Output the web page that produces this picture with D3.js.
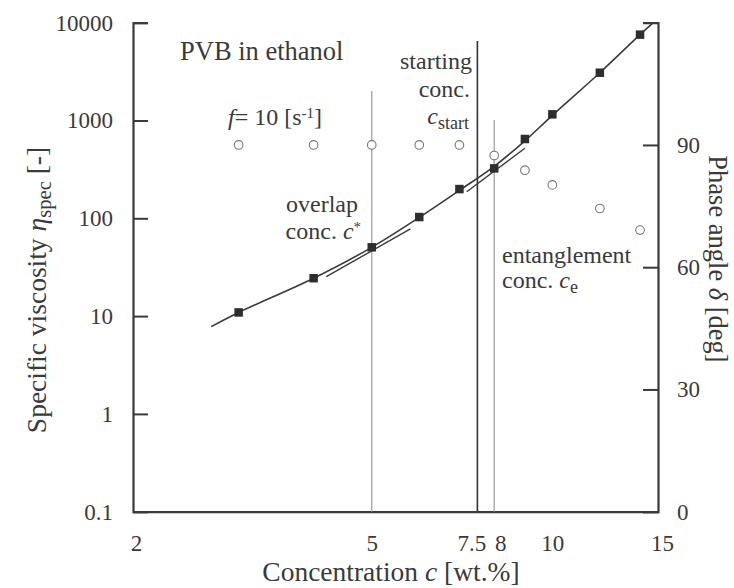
<!DOCTYPE html>
<html>
<head>
<meta charset="utf-8">
<script src="https://cdn.jsdelivr.net/npm/d3@7"></script>
<style>
  body { margin: 0; background: #fff; }
  svg text { font-family: "Liberation Serif", "DejaVu Serif", serif; fill: #3a3a3a; }
</style>
</head>
<body>
<div class="container"></div>
<script>
// measured points: concentration [wt.%], specific viscosity, phase angle [deg]
var conc = [3, 4, 5, 6, 7, 8, 9, 10, 12, 14];
var etaSpec = [10.9, 24.4, 50.5, 103, 199, 324, 647, 1156, 3080, 7550];
var phase = [90, 90, 90, 90, 90, 87.4, 83.8, 80.2, 74.4, 69.1];

// fitted curve through the viscosity data
var fitConc = [2.7, 3, 4, 5, 6, 7, 8, 9, 10, 12, 14, 14.7];
var fitEta = [7.8, 10.9, 24.4, 50.5, 102, 193, 340, 620, 1130, 3080, 7550, 9900];

// tangent segments at c* and c_e
var tangentStar = { c: [4.2, 5.8], eta: [25.3, 78] };
var tangentE = { c: [7.2, 9.0], eta: [187, 520] };

// vertical marker lines: concentration and top (in eta units)
var markC = [5, 7.5, 8];
var markTop = [2000, 6500, 1010];
var markDark = [false, true, false];

var xTickLabels = [2, 5, 7.5, 8, 10, 15];
var yTickLabels = [0.1, 1, 10, 100, 1000, 10000];
var rTickLabels = [0, 30, 60, 90];

var width = 734,
    height = 588;

var svg = d3.select('.container')
    .append('svg')
    .attr('width', width)
    .attr('height', height);

var x = d3.scaleLog().domain([2, 15]).range([133, 658]);
var y = d3.scaleLog().domain([0.1, 10000]).range([511.7, 22.7]);
var yR = d3.scaleLinear().domain([0, 120]).range([511.7, 22.7]);

var axisColor = '#3a3a3a';

// minor ticks for the log y axis
var yMinor = [];
d3.range(-1, 4).forEach(function(p) {
    d3.range(2, 10).forEach(function(m) { yMinor.push(m * Math.pow(10, p)); });
});

// left axis
var gL = svg.append('g').attr('transform', 'translate(133,0)');
gL.call(d3.axisLeft(y).tickValues(yMinor).tickSize(-8).tickFormat(''));
gL.call(d3.axisLeft(y).tickValues(yTickLabels).tickSize(-15).tickPadding(20)
    .tickFormat(function(d) { return d < 1 ? '0.1' : d3.format('d')(d); }));

// right axis
var gR = svg.append('g').attr('transform', 'translate(658,0)');
gR.call(d3.axisRight(yR).tickValues([15, 45, 75, 105]).tickSize(-8).tickFormat(''));
gR.call(d3.axisRight(yR).tickValues(rTickLabels).tickSize(-15).tickPadding(19));

// bottom axis
var gB = svg.append('g').attr('transform', 'translate(0,511.7)');
gB.call(d3.axisBottom(x).tickValues([3, 4, 5, 6, 7, 8, 9]).tickSize(-7).tickFormat(''));
gB.call(d3.axisBottom(x).tickValues([10]).tickSize(-13).tickFormat(''));
gB.call(d3.axisBottom(x).tickValues(xTickLabels).tickSize(0).tickPadding(23)
    .tickFormat(function(d) { return d; }));

svg.selectAll('.domain').attr('stroke', axisColor).attr('stroke-width', 2.2);
svg.selectAll('.tick line').attr('stroke', axisColor).attr('stroke-width', 2);
svg.selectAll('.tick text')
    .style('font-family', '"Liberation Serif", serif')
    .attr('font-size', 23)
    .attr('fill', '#3a3a3a');

// nudge the crowded 7.5 / 8 labels apart
gB.selectAll('.tick text').attr('dx', function(d) {
    return d === 7.5 ? -6 : d === 8 ? 6 : d === 15 ? 4 : d === 2 ? 3 : 0;
});

// vertical marker lines
markC.forEach(function(c, i) {
    svg.append('line')
        .attr('x1', x(c)).attr('x2', x(c))
        .attr('y1', y(markTop[i])).attr('y2', y(0.1))
        .attr('stroke', markDark[i] ? '#333' : '#9a9a9a')
        .attr('stroke-width', markDark[i] ? 1.6 : 1.2);
});

// fit curve
var line = d3.line()
    .x(function(d) { return x(d[0]); })
    .y(function(d) { return y(d[1]); })
    .curve(d3.curveCatmullRom);

svg.append('path')
    .datum(d3.zip(fitConc, fitEta))
    .attr('d', line)
    .attr('fill', 'none')
    .attr('stroke', '#3a3a3a')
    .attr('stroke-width', 1.6);

[tangentStar, tangentE].forEach(function(t) {
    svg.append('path')
        .datum(d3.zip(t.c, t.eta))
        .attr('d', d3.line().x(function(d) { return x(d[0]); }).y(function(d) { return y(d[1]); }))
        .attr('fill', 'none')
        .attr('stroke', '#3a3a3a')
        .attr('stroke-width', 1.4);
});

// phase angle circles
svg.selectAll('circle.phase')
    .data(d3.zip(conc, phase))
    .enter().append('circle')
    .attr('class', 'phase')
    .attr('cx', function(d) { return x(d[0]); })
    .attr('cy', function(d) { return yR(d[1]); })
    .attr('r', 4.3)
    .attr('fill', '#fff')
    .attr('stroke', '#777')
    .attr('stroke-width', 1.1);

// viscosity squares
var sq = 8.5;
svg.selectAll('rect.eta')
    .data(d3.zip(conc, etaSpec))
    .enter().append('rect')
    .attr('class', 'eta')
    .attr('x', function(d) { return x(d[0]) - sq / 2; })
    .attr('y', function(d) { return y(d[1]) - sq / 2; })
    .attr('width', sq)
    .attr('height', sq)
    .attr('fill', '#2e2e2e');

// text helpers
function label(parts, attrs, size) {
    size = size || 24;
    var t = svg.append('text').attr('font-size', size);
    Object.keys(attrs).forEach(function(k) { t.attr(k, attrs[k]); });
    parts.forEach(function(p) {
        var s = t.append('tspan').text(p.t);
        if (p.i) s.attr('font-style', 'italic');
        if (p.sub) s.attr('font-size', size * 0.75).attr('baseline-shift', '-25%');
        if (p.sup) s.attr('font-size', size * 0.62).attr('baseline-shift', '45%');
    });
    return t;
}

label([{ t: 'PVB in ethanol' }], { x: 180, y: 60 }, 26.5);
label([{ t: 'f', i: true }, { t: '= 10 [s' }, { t: '-1', sup: true }, { t: ']' }], { x: 228, y: 125 });

label([{ t: 'starting' }], { x: 472, y: 69, 'text-anchor': 'end' });
label([{ t: 'conc.' }], { x: 470, y: 97, 'text-anchor': 'end' });
label([{ t: 'c', i: true }, { t: 'start', sub: true }], { x: 469, y: 124, 'text-anchor': 'end' });

label([{ t: 'overlap' }], { x: 358, y: 212, 'text-anchor': 'end' });
label([{ t: 'conc. ' }, { t: 'c', i: true }, { t: '*', sup: true }], { x: 361, y: 239, 'text-anchor': 'end' });

label([{ t: 'entanglement' }], { x: 502, y: 263 });
label([{ t: 'conc. ' }, { t: 'c', i: true }, { t: 'e', sub: true }], { x: 502, y: 288 });

// axis titles
label([{ t: 'Concentration ' }, { t: 'c', i: true }, { t: ' [wt.%]' }],
    { x: 391, y: 581, 'text-anchor': 'middle' }, 27.5);
label([{ t: 'Specific viscosity ' }, { t: 'η', i: true }, { t: 'spec', sub: true }, { t: ' [-]' }],
    { transform: 'translate(46,290) rotate(-90)', 'text-anchor': 'middle' }, 27.5);
label([{ t: 'Phase angle ' }, { t: 'δ', i: true }, { t: ' [deg]' }],
    { transform: 'translate(709,259) rotate(90)', 'text-anchor': 'middle' }, 26.5);
</script>
</body>
</html>
